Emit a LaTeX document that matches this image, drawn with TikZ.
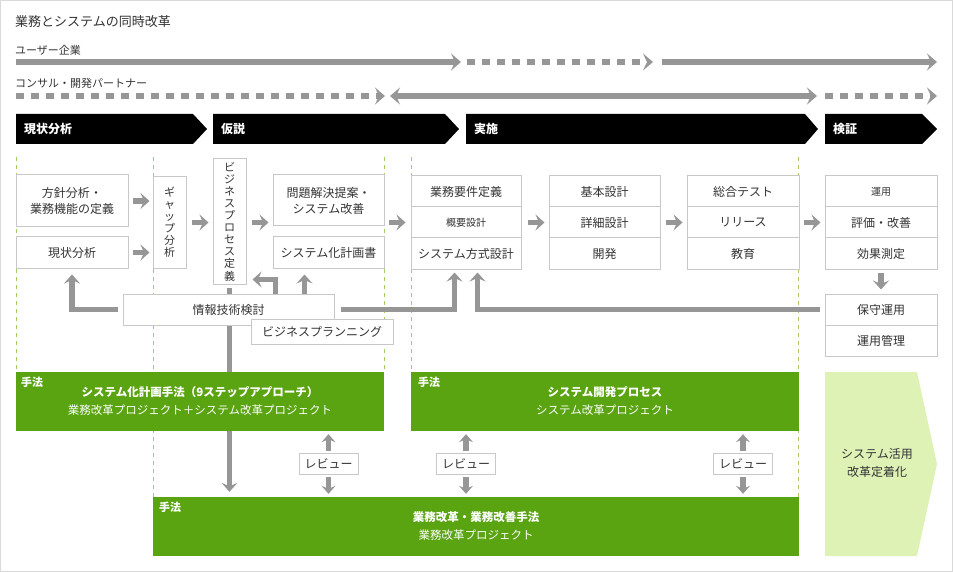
\documentclass[tikz,border=0pt]{standalone}
\usepackage{fontspec}
\setmainfont{Noto Sans CJK JP}
\usetikzlibrary{arrows.meta}
\definecolor{txtgray}{RGB}{51,51,51}
\definecolor{boxline}{RGB}{200,200,200}
\definecolor{arrgray}{RGB}{150,150,150}
\definecolor{leaf}{RGB}{90,164,18}
\definecolor{paleleaf}{RGB}{222,242,182}
\definecolor{guide}{RGB}{160,205,100}
\definecolor{framegray}{RGB}{217,217,217}
\pgfdeclarelayer{back}
\pgfsetlayers{back,main}

\begin{document}
\begin{tikzpicture}[x=1pt,y=-1pt,
  box/.style={draw=boxline,fill=white,line width=1pt,align=center,inner sep=0pt,
    text=txtgray,font=\fontsize{12}{16}\selectfont},
  tallbox/.style={box,minimum width=33pt,font=\fontsize{11}{12.1}\selectfont},
  phase/.style={anchor=west,inner sep=0pt,text=white,font=\bfseries\fontsize{12}{14}\selectfont},
  method/.style={fill=leaf,minimum height=59pt,inner sep=0pt,align=center,text=white,
    font=\fontsize{11.5}{18}\selectfont},
  tag/.style={anchor=north west,inner sep=0pt,text=white,font=\bfseries\fontsize{11}{13}\selectfont},
  label/.style={anchor=west,inner sep=0pt,text=txtgray},
  guideline/.style={draw=guide,line width=0.8pt,dash pattern=on 4pt off 4pt},
  blk/.style={draw=arrgray,line width=5.5pt,-{Stealth[length=9pt,width=16pt,inset=3.5pt]}},
  rvw/.style={draw=arrgray,line width=5.5pt,-{Stealth[length=8pt,width=14pt,inset=3pt]}},
  flow/.style={draw=arrgray,line width=6pt,-{Stealth[length=10pt,width=17pt,inset=4pt]}},
  dflow/.style={flow,dash pattern=on 8pt off 7pt},
]
\useasboundingbox (0,0) rectangle (953,572);
\draw[framegray,line width=1pt] (0.5,0.5) rectangle (952.5,571.5);

%Title and lanes
\node[label,font=\fontsize{13}{15}\selectfont] (title) at (15,22) {業務とシステムの同時改革};
\node[label,font=\fontsize{11}{13}\selectfont] (lbluser) at (15,50.5) {ユーザー企業};
\node[label,font=\fontsize{11}{13}\selectfont] (lblpartner) at (15,83) {コンサル・開発パートナー};

\coordinate (u0) at (16,62);
\coordinate (u1) at (461,62);
\coordinate (u2) at (467,62);
\coordinate (u3) at (653,62);
\coordinate (u4) at (662,62);
\coordinate (u5) at (937,62);
\draw[flow] (u0) -- (u1);
\draw[dflow] (u2) -- (u3);
\draw[flow] (u4) -- (u5);

\coordinate (p0) at (16,96);
\coordinate (p1) at (385,96);
\coordinate (p2) at (390,96);
\coordinate (p3) at (817,96);
\coordinate (p4) at (825,96);
\coordinate (p5) at (937,96);
\draw[dflow] (p0) -- (p1);
\draw[flow,{Stealth[length=10pt,width=17pt,inset=4pt]}-{Stealth[length=10pt,width=17pt,inset=4pt]}] (p2) -- (p3);
\draw[dflow] (p4) -- (p5);

%Phase banners
\fill (16,114) -- (193,114) -- (207,129) -- (193,144) -- (16,144) -- cycle;
\node[phase] (ph1) at (24,129) {現状分析};
\fill (213,114) -- (445,114) -- (459,129) -- (445,144) -- (213,144) -- cycle;
\node[phase] (ph2) at (221,129) {仮説};
\fill (466,114) -- (805,114) -- (818,129) -- (805,144) -- (466,144) -- cycle;
\node[phase] (ph3) at (474,129) {実施};
\fill (825,114) -- (922,114) -- (937,129) -- (922,144) -- (825,144) -- cycle;
\node[phase] (ph4) at (833,129) {検証};

%Current state
\node[box,minimum width=112pt,minimum height=52pt] (hoshin) at (72,201) {方針分析・\\業務機能の定義};
\node[box,minimum width=112pt,minimum height=31pt] (genjo) at (72,252.5) {現状分析};

%Hypothesis
\node[tallbox,minimum height=91pt] (gap) at (169.5,222.5) {ギ\\ャ\\ッ\\プ\\分\\析};
\node[tallbox,minimum height=125pt] (bpd) at (229.5,221.5) {ビ\\ジ\\ネ\\ス\\プ\\ロ\\セ\\ス\\定\\義};
\node[box,minimum width=111pt,minimum height=51pt] (mondai) at (328.5,200.5) {問題解決提案・\\システム改善};
\node[box,minimum width=111pt,minimum height=31pt] (keikaku) at (328.5,252.5) {システム化計画書};
\node[box,minimum width=211pt,minimum height=31pt] (joho) at (228.5,309.5) {情報技術検討};
\node[box,minimum width=142pt,minimum height=25pt] (bplan) at (322,331.5) {ビジネスプランニング};

%Execution
\node[box,minimum width=110pt,minimum height=31pt] (yoken1) at (466,191.5) {業務要件定義};
\node[box,minimum width=110pt,minimum height=31pt,font=\fontsize{10}{12}\selectfont] (yoken2) at (466,222.5) {概要設計};
\node[box,minimum width=110pt,minimum height=31pt] (yoken3) at (466,253.5) {システム方式設計};

\node[box,minimum width=111pt,minimum height=31pt] (kihon1) at (604.5,191.5) {基本設計};
\node[box,minimum width=111pt,minimum height=31pt] (kihon2) at (604.5,222.5) {詳細設計};
\node[box,minimum width=111pt,minimum height=31pt] (kihon3) at (604.5,253.5) {開発};

\node[box,minimum width=112pt,minimum height=31pt] (sogo1) at (743,191.5) {総合テスト};
\node[box,minimum width=112pt,minimum height=31pt] (sogo2) at (743,222.5) {リリース};
\node[box,minimum width=112pt,minimum height=31pt] (sogo3) at (743,253.5) {教育};

%Verification
\node[box,minimum width=112pt,minimum height=31pt,font=\fontsize{10}{12}\selectfont] (unyo1) at (881,191.5) {運用};
\node[box,minimum width=112pt,minimum height=31pt] (unyo2) at (881,222.5) {評価・改善};
\node[box,minimum width=112pt,minimum height=31pt] (unyo3) at (881,253.5) {効果測定};
\node[box,minimum width=112pt,minimum height=31pt] (hoshu) at (881,309.5) {保守運用};
\node[box,minimum width=112pt,minimum height=31pt] (kanri) at (881,340.5) {運用管理};

%Methods
\node[method,minimum width=368pt] (planA) at (200,401.5) {\textbf{システム化計画手法（9ステップアプローチ）}\\業務改革プロジェクト＋システム改革プロジェクト};
\node[tag] (planAtag) at ([xshift=5pt,yshift=-5pt]planA.north west) {手法};
\node[method,minimum width=388pt] (devB) at (605,401.5) {\textbf{システム開発プロセス}\\システム改革プロジェクト};
\node[tag] (devBtag) at ([xshift=7pt,yshift=-5pt]devB.north west) {手法};
\node[method,minimum width=646pt] (methC) at (476,526.5) {\textbf{業務改革・業務改善手法}\\業務改革プロジェクト};
\node[tag] (methCtag) at ([xshift=6pt,yshift=-5pt]methC.north west) {手法};

\fill[paleleaf] (825,372) -- (917,372) -- (937,464) -- (917,556) -- (825,556) -- cycle;
\node[align=center,text=txtgray,font=\fontsize{12}{18}\selectfont] (katsuyo) at (877,463) {システム活用\\改革定着化};

%Reviews
\node[box,minimum width=59pt,minimum height=21pt] (rev1) at (328.5,463.5) {レビュー};
\node[box,minimum width=59pt,minimum height=21pt] (rev2) at (466,463.5) {レビュー};
\node[box,minimum width=59pt,minimum height=21pt] (rev3) at (743,463.5) {レビュー};

%Guides and the long arrow go behind
\begin{pgfonlayer}{back}
\draw[guideline] (16,157) -- (16,372);
\draw[guideline] (153,157) -- (153,497);
\draw[guideline] (384,157) -- (384,372);
\draw[guideline] (411,157) -- (411,372);
\draw[guideline] (798.5,157) -- (798.5,497);
\draw[blk,shorten <=3pt,shorten >=5pt] (bpd.south) -- (bpd.south |- methC.north);
\end{pgfonlayer}

%Flow arrows
\draw[blk,shorten <=4pt,shorten >=3pt] (hoshin.east) -- (hoshin.east -| gap.west);
\draw[blk,shorten <=4pt,shorten >=3pt] (genjo.east) -- (genjo.east -| gap.west);
\draw[blk,shorten <=5pt,shorten >=4pt] (gap.east) -- (gap.east -| bpd.west);
\draw[blk,shorten <=5pt,shorten >=4pt] (bpd.east |- gap.east) -- (mondai.west |- gap.east);
\draw[blk,shorten <=4pt,shorten >=5pt] (mondai.east |- yoken2.west) -- (yoken2.west);
\draw[blk,shorten <=6pt,shorten >=4pt] (yoken2.east) -- (kihon2.west);
\draw[blk,shorten <=5pt,shorten >=4pt] (kihon2.east) -- (sogo2.west);
\draw[blk,shorten <=4pt,shorten >=4pt] (sogo2.east) -- (unyo2.west);

\draw[blk,shorten <=5pt,shorten >=6pt] (joho.west) -| (genjo.south);
\draw[blk,shorten >=6pt] ([xshift=47pt]joho.north) |- ([yshift=5pt]bpd.south east);
\draw[blk,shorten >=6pt] ([xshift=32pt]joho.north -| keikaku.south west) -- ([xshift=32pt]keikaku.south west);
\draw[blk,shorten <=6pt,shorten >=3pt] (joho.east) -| ([xshift=44pt]yoken3.south west);
\draw[blk,shorten <=5pt,shorten >=3pt] (hoshu.west) -| ([xshift=67pt]yoken3.south west);
\draw[blk,shorten <=3pt,shorten >=4pt] (unyo3.south) -- (hoshu.north);

\draw[rvw,shorten <=2pt,shorten >=3pt] (rev1.north) -- (rev1.north |- planA.south);
\draw[rvw,shorten <=2pt,shorten >=3pt] (rev1.south) -- (rev1.south |- methC.north);
\draw[rvw,shorten <=2pt,shorten >=3pt] (rev2.north) -- (rev2.north |- devB.south);
\draw[rvw,shorten <=2pt,shorten >=3pt] (rev2.south) -- (rev2.south |- methC.north);
\draw[rvw,shorten <=2pt,shorten >=3pt] (rev3.north) -- (rev3.north |- devB.south);
\draw[rvw,shorten <=2pt,shorten >=3pt] (rev3.south) -- (rev3.south |- methC.north);

\end{tikzpicture}
\end{document}
